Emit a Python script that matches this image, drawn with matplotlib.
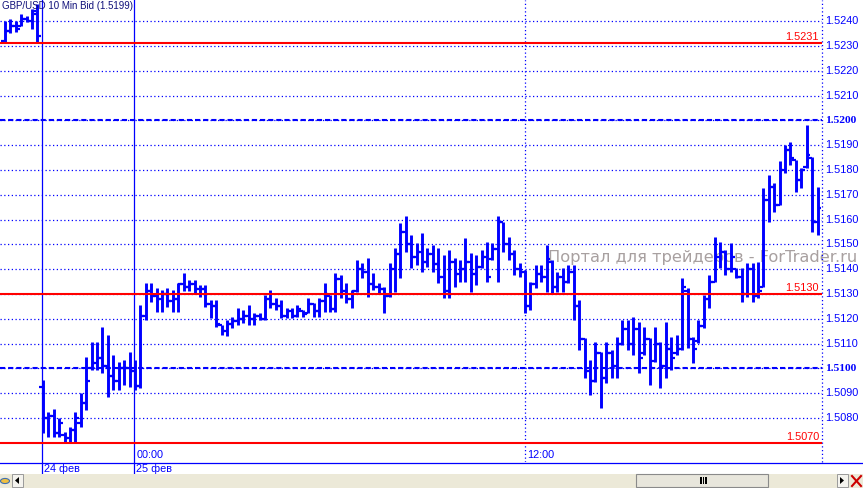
import matplotlib
matplotlib.use('Agg')
import matplotlib.pyplot as plt
from matplotlib.transforms import blended_transform_factory
from matplotlib.patches import Rectangle, Polygon
from matplotlib.lines import Line2D

# ---------------- data (10-minute OHLC bars, GBP/USD bid) ----------------
bar_index = list(range(-24, 127))

opens = [
    1.52320, 1.52360, 1.52380, 1.52380, 1.52410, 1.52400, 1.52430,
    1.50924, 1.50800, 1.50810, 1.50740, 1.50730, 1.50720, 1.50750, 1.50780,
    1.50860, 1.51000, 1.51020, 1.51040, 1.51010, 1.50970, 1.50950, 1.51000,
    1.51000, 1.50990, 1.50930, 1.51210, 1.51310, 1.51290, 1.51280, 1.51300,
    1.51270, 1.51280, 1.51340, 1.51330, 1.51340, 1.51320, 1.51320, 1.51260,
    1.51250, 1.51175, 1.51150, 1.51180, 1.51190, 1.51200, 1.51210, 1.51200,
    1.51210, 1.51200, 1.51280, 1.51260, 1.51250, 1.51210, 1.51230, 1.51210,
    1.51230, 1.51225, 1.51260, 1.51230, 1.51270, 1.51290, 1.51240, 1.51360,
    1.51310, 1.51280, 1.51310, 1.51400, 1.51390, 1.51340, 1.51330, 1.51320,
    1.51290, 1.51400, 1.51460, 1.51550, 1.51500, 1.51450, 1.51470, 1.51430,
    1.51460, 1.51420, 1.51370, 1.51310, 1.51430, 1.51380, 1.51400, 1.51430,
    1.51380, 1.51410, 1.51450, 1.51440, 1.51480, 1.51590, 1.51500, 1.51460,
    1.51400, 1.51390, 1.51250, 1.51340, 1.51380, 1.51370, 1.51430, 1.51330,
    1.51370, 1.51350, 1.51390, 1.51250, 1.51120, 1.50990, 1.50950, 1.51060,
    1.50960, 1.51060, 1.51010, 1.51100, 1.51160, 1.51100, 1.51160, 1.51060,
    1.51120, 1.51030, 1.51100, 1.51010, 1.51080, 1.51060, 1.51080, 1.51310,
    1.51120, 1.51110, 1.51170, 1.51280, 1.51350, 1.51450, 1.51470, 1.51400,
    1.51400, 1.51370, 1.51300, 1.51400, 1.51290, 1.51330, 1.51680, 1.51730,
    1.51660, 1.51800, 1.51880, 1.51840, 1.51760, 1.51810, 1.51850, 1.51590,
]
highs = [
    1.52400, 1.52410, 1.52400, 1.52430, 1.52420, 1.52450, 1.52470,
    1.50953, 1.50825, 1.50835, 1.50800, 1.50745, 1.50765, 1.50825, 1.50900,
    1.51047, 1.51108, 1.51108, 1.51168, 1.51135, 1.51054, 1.51027, 1.51034,
    1.51067, 1.51034, 1.51256, 1.51343, 1.51343, 1.51323, 1.51316, 1.51323,
    1.51316, 1.51343, 1.51383, 1.51356, 1.51356, 1.51336, 1.51336, 1.51276,
    1.51276, 1.51175, 1.51195, 1.51209, 1.51242, 1.51235, 1.51256, 1.51222,
    1.51222, 1.51296, 1.51316, 1.51283, 1.51276, 1.51242, 1.51242, 1.51256,
    1.51235, 1.51283, 1.51262, 1.51283, 1.51343, 1.51296, 1.51383, 1.51377,
    1.51343, 1.51316, 1.51437, 1.51424, 1.51444, 1.51383, 1.51343, 1.51330,
    1.51424, 1.51484, 1.51585, 1.51615, 1.51538, 1.51504, 1.51545, 1.51484,
    1.51498, 1.51484, 1.51457, 1.51477, 1.51444, 1.51437, 1.51524, 1.51464,
    1.51457, 1.51477, 1.51511, 1.51504, 1.51615, 1.51592, 1.51531, 1.51477,
    1.51424, 1.51397, 1.51350, 1.51417, 1.51417, 1.51498, 1.51437, 1.51390,
    1.51403, 1.51417, 1.51417, 1.51276, 1.51121, 1.51034, 1.51108, 1.51067,
    1.51108, 1.51074, 1.51128, 1.51195, 1.51195, 1.51209, 1.51188, 1.51168,
    1.51121, 1.51168, 1.51108, 1.51188, 1.51128, 1.51135, 1.51363, 1.51323,
    1.51128, 1.51195, 1.51296, 1.51377, 1.51531, 1.51511, 1.51477, 1.51504,
    1.51403, 1.51403, 1.51424, 1.51424, 1.51430, 1.51726, 1.51780, 1.51746,
    1.51834, 1.51901, 1.51914, 1.51840, 1.51807, 1.51981, 1.51854, 1.51733,
]
lows = [
    1.52315, 1.52350, 1.52355, 1.52380, 1.52395, 1.52370, 1.52315,
    1.50738, 1.50725, 1.50725, 1.50725, 1.50704, 1.50704, 1.50704, 1.50765,
    1.50832, 1.50994, 1.50994, 1.50980, 1.50886, 1.50913, 1.50913, 1.50933,
    1.50926, 1.50913, 1.50920, 1.51195, 1.51269, 1.51229, 1.51229, 1.51249,
    1.51229, 1.51229, 1.51310, 1.51310, 1.51303, 1.51289, 1.51249, 1.51202,
    1.51168, 1.51135, 1.51131, 1.51162, 1.51175, 1.51182, 1.51175, 1.51175,
    1.51195, 1.51195, 1.51242, 1.51235, 1.51202, 1.51202, 1.51202, 1.51209,
    1.51209, 1.51222, 1.51209, 1.51209, 1.51229, 1.51229, 1.51229, 1.51283,
    1.51262, 1.51242, 1.51309, 1.51363, 1.51289, 1.51316, 1.51303, 1.51222,
    1.51289, 1.51309, 1.51363, 1.51471, 1.51403, 1.51417, 1.51390, 1.51410,
    1.51390, 1.51343, 1.51283, 1.51283, 1.51330, 1.51350, 1.51350, 1.51309,
    1.51336, 1.51403, 1.51350, 1.51437, 1.51350, 1.51471, 1.51437, 1.51377,
    1.51370, 1.51222, 1.51235, 1.51323, 1.51350, 1.51309, 1.51303, 1.51309,
    1.51309, 1.51343, 1.51195, 1.51074, 1.50960, 1.50893, 1.50946, 1.50839,
    1.50940, 1.50960, 1.50960, 1.51094, 1.51074, 1.51054, 1.50980, 1.51054,
    1.50933, 1.51027, 1.50920, 1.50960, 1.50994, 1.51054, 1.51074, 1.51081,
    1.51020, 1.51101, 1.51162, 1.51242, 1.51350, 1.51403, 1.51377, 1.51390,
    1.51363, 1.51269, 1.51289, 1.51269, 1.51283, 1.51330, 1.51592, 1.51632,
    1.51659, 1.51787, 1.51820, 1.51713, 1.51726, 1.51807, 1.51551, 1.51538,
]
closes = [
    1.52360, 1.52380, 1.52370, 1.52410, 1.52400, 1.52440, 1.52340,
    1.50800, 1.50810, 1.50740, 1.50780, 1.50720, 1.50750, 1.50800, 1.50860,
    1.50950, 1.51020, 1.51040, 1.51010, 1.50970, 1.50950, 1.51000, 1.51000,
    1.50990, 1.50930, 1.51210, 1.51310, 1.51290, 1.51280, 1.51300, 1.51270,
    1.51280, 1.51340, 1.51330, 1.51340, 1.51320, 1.51320, 1.51260, 1.51250,
    1.51180, 1.51150, 1.51180, 1.51190, 1.51200, 1.51210, 1.51200, 1.51210,
    1.51200, 1.51280, 1.51260, 1.51250, 1.51210, 1.51230, 1.51210, 1.51240,
    1.51220, 1.51260, 1.51230, 1.51270, 1.51300, 1.51240, 1.51360, 1.51310,
    1.51280, 1.51310, 1.51400, 1.51390, 1.51340, 1.51330, 1.51320, 1.51290,
    1.51400, 1.51460, 1.51550, 1.51500, 1.51450, 1.51470, 1.51430, 1.51460,
    1.51420, 1.51370, 1.51310, 1.51430, 1.51380, 1.51400, 1.51430, 1.51380,
    1.51410, 1.51450, 1.51370, 1.51480, 1.51590, 1.51500, 1.51460, 1.51400,
    1.51390, 1.51250, 1.51340, 1.51380, 1.51370, 1.51440, 1.51330, 1.51370,
    1.51350, 1.51390, 1.51250, 1.51120, 1.50990, 1.50950, 1.51060, 1.50960,
    1.51060, 1.51010, 1.51100, 1.51160, 1.51100, 1.51160, 1.51040, 1.51120,
    1.51000, 1.51100, 1.51010, 1.51080, 1.51040, 1.51080, 1.51330, 1.51120,
    1.51080, 1.51170, 1.51280, 1.51350, 1.51450, 1.51470, 1.51400, 1.51450,
    1.51370, 1.51300, 1.51400, 1.51290, 1.51310, 1.51680, 1.51730, 1.51660,
    1.51800, 1.51880, 1.51850, 1.51760, 1.51800, 1.51860, 1.51590, 1.51645,
]

price_ticks = [1.5080, 1.5090, 1.5100, 1.5110, 1.5120, 1.5130, 1.5140, 1.5150,
               1.5160, 1.5170, 1.5180, 1.5190, 1.5200, 1.5210, 1.5220, 1.5230, 1.5240]
bold_ticks = [1.5100, 1.5200]
level_lines = [1.5231, 1.5130, 1.5070]
time_ticks = [0, 72]
time_labels = ['00:00', '12:00']
date_lines = [-17.2, -0.1]
date_labels = ['24 фев', '25 фев']
title = 'GBP/USD 10 Min Bid (1.5199)'
watermark = 'Портал для трейдеров - ForTrader.ru'

# ---------------- layout ----------------
W, H = 863, 488
BLUE = '#0000FF'
RED = '#FF0000'
fig = plt.figure(figsize=(W / 100, H / 100), dpi=100)
fig.patch.set_facecolor('white')

AX_W, AX_BOTTOM = 822, 462
ax = fig.add_axes([0, (H - AX_BOTTOM) / H, AX_W / W, AX_BOTTOM / H])
ax.set_xlim(-24.92, 126.83)
ax.set_ylim(1.506226, 1.52485)
ax.axis('off')
bt = blended_transform_factory(ax.transData, ax.transAxes)
bt_y = blended_transform_factory(ax.transAxes, ax.transData)
xmin, xmax = ax.get_xlim()

# grid
ax.hlines(price_ticks, xmin, xmax, colors=BLUE, linestyles=(0, (1, 2)), lw=0.9, zorder=1)
ax.hlines(bold_ticks, xmin, xmax, colors=BLUE, linestyles=(0, (2.5, 1.4)), lw=1.5, zorder=2)
ax.plot([1, 1], [0, 1], transform=ax.transAxes, color=BLUE, ls=(0, (1, 2)), lw=0.9, clip_on=False, zorder=2)
ax.plot([time_ticks[1]] * 2, [0, 1], transform=bt, color=BLUE, ls=(0, (1, 2)), lw=0.9, zorder=2)
for d in date_lines:
    ax.plot([d, d], [-12 / AX_BOTTOM, 1], transform=bt, color=BLUE, lw=0.9, clip_on=False, zorder=2)

# watermark (under bars)
ax.text(548 / AX_W, 1.51445, watermark, transform=bt_y, fontsize=11.7, family='DejaVu Sans',
        color='#A8A0A0', ha='left', va='center', clip_on=False, zorder=1.5)

# OHLC bars
ax.vlines(bar_index, lows, highs, colors=BLUE, lw=2.1, zorder=4)
ax.hlines(opens, [i - 0.7 for i in bar_index], bar_index, colors=BLUE, lw=1.6, zorder=4)
ax.hlines(closes, bar_index, [i + 0.7 for i in bar_index], colors=BLUE, lw=1.6, zorder=4)

# level lines
ax.hlines(level_lines, xmin, xmax, colors=RED, lw=1.5, zorder=5)
for lv in level_lines:
    ax.text(1 - 3 / AX_W, lv + 0.00004, f'{lv:.4f}', transform=bt_y, color=RED, fontsize=7.8,
            family='Liberation Sans', ha='right', va='bottom', zorder=6)

# right price labels
for p in price_ticks:
    if p in bold_ticks:
        ax.text(1 + 3 / AX_W, p, f'{p:.4f}', transform=bt_y, color=BLUE, fontsize=8.2,
                family='Liberation Serif', fontweight='bold', ha='left', va='center', clip_on=False)
    else:
        ax.text(1 + 3 / AX_W, p, f'{p:.4f}', transform=bt_y, color=BLUE, fontsize=7.8,
                family='Liberation Sans', ha='left', va='center', clip_on=False)

# time labels (inside plot, bottom)
for t, lab in zip(time_ticks, time_labels):
    ax.text(t + 0.35, 2 / AX_BOTTOM, lab, transform=bt, color=BLUE, fontsize=7.8,
            family='Liberation Sans', ha='left', va='bottom')
# date labels (below axis line)
for d, lab in zip(date_lines, date_labels):
    ax.text(d + 0.35, -1.5 / AX_BOTTOM, lab, transform=bt, color=BLUE, fontsize=7.8,
            family='Liberation Sans', ha='left', va='top', clip_on=False)

# title
fig.text(2 / W, 1 - 1 / H, title, color='#10107A', fontsize=7.0, family='Liberation Sans',
         ha='left', va='top')

# bottom separator line
fig.add_artist(Line2D([0, 1], [(H - 462.5) / H] * 2, color=BLUE, lw=0.9))

# scrollbar
def px_rect(x, y, w, h, **kw):
    fig.add_artist(Rectangle((x / W, 1 - (y + h) / H), w / W, h / H, transform=fig.transFigure, **kw))

px_rect(0, 474, W, 14, facecolor='#ECE9D8', edgecolor='none')
px_rect(12, 474, 11, 13, facecolor='#F4F3EE', edgecolor='#9A9A9A', lw=0.7)
fig.add_artist(Polygon([(15 / W, 1 - 480.5 / H), (19 / W, 1 - 477 / H), (19 / W, 1 - 484 / H)],
                       closed=True, transform=fig.transFigure, facecolor='black', edgecolor='none'))
px_rect(636, 474, 132, 13, facecolor='#E8E6DC', edgecolor='#8A8A8A', lw=0.8)
for gx in (700, 702.5, 705):
    px_rect(gx, 477, 1.5, 7, facecolor='black', edgecolor='none')
px_rect(837, 474, 11, 13, facecolor='#F4F3EE', edgecolor='#9A9A9A', lw=0.7)
fig.add_artist(Polygon([(844 / W, 1 - 480.5 / H), (840 / W, 1 - 477 / H), (840 / W, 1 - 484 / H)],
                       closed=True, transform=fig.transFigure, facecolor='black', edgecolor='none'))
fig.add_artist(Line2D([852 / W, 861 / W], [1 - 476 / H, 1 - 486 / H], color='#CC0000', lw=1.5))
fig.add_artist(Line2D([852 / W, 861 / W], [1 - 486 / H, 1 - 476 / H], color='#CC0000', lw=1.5))
fig.add_artist(plt.Circle((5 / W, 1 - 481 / H), 4.5 / W, transform=fig.transFigure,
                          facecolor='#F0C040', edgecolor='#4070B0', lw=0.8))

fig.savefig('out.png', dpi=100)
